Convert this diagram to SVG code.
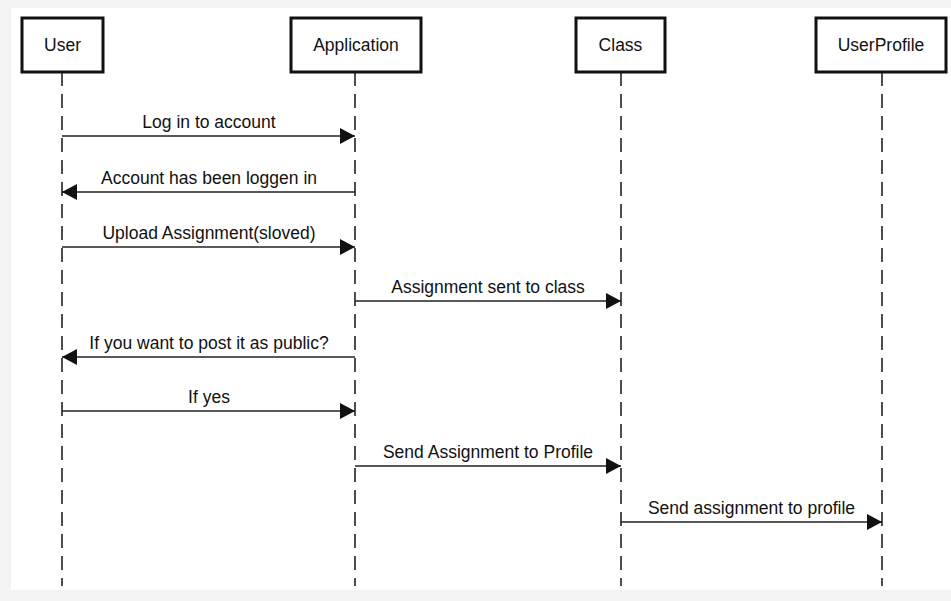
<svg xmlns="http://www.w3.org/2000/svg" width="951" height="601" viewBox="0 0 951 601">
  <style>
    .box { fill: #ffffff; stroke: #111111; stroke-width: 3; }
    .life { stroke: #222222; stroke-width: 1.6; stroke-dasharray: 14 8; fill: none; }
    .msg { stroke: #222222; stroke-width: 1.6; fill: none; marker-end: url(#head); }
    text { font-family: "Liberation Sans", Arial, sans-serif; font-size: 17.5px; fill: #111111; text-anchor: middle; }
  </style>
  <defs>
    <marker id="head" markerUnits="userSpaceOnUse" markerWidth="18" markerHeight="18" refX="15" refY="8" orient="auto">
      <path d="M0,0 L15,8 L0,16 z" fill="#111111"/>
    </marker>
  </defs>

  <!-- canvas with light frame -->
  <rect x="0" y="0" width="951" height="601" fill="#f3f3f3"/>
  <rect x="11" y="8" width="940" height="582" fill="#ffffff"/>

  <!-- lifelines -->
  <g id="lifelines">
    <line class="life" x1="62" y1="72" x2="62" y2="586"/>
    <line class="life" x1="355" y1="72" x2="355" y2="586"/>
    <line class="life" x1="621" y1="72" x2="621" y2="586"/>
    <line class="life" x1="882" y1="72" x2="882" y2="586"/>
  </g>

  <!-- participants -->
  <g id="user">
    <rect class="box" x="22" y="18" width="81" height="54"/>
    <text x="62.5" y="51">User</text>
  </g>
  <g id="application">
    <rect class="box" x="291" y="18" width="130" height="54"/>
    <text x="356" y="51">Application</text>
  </g>
  <g id="class">
    <rect class="box" x="576" y="18" width="89" height="54"/>
    <text x="620.5" y="51">Class</text>
  </g>
  <g id="userprofile">
    <rect class="box" x="816" y="18" width="130" height="54"/>
    <text x="881" y="51">UserProfile</text>
  </g>

  <!-- messages -->
  <g id="connectors">
    <line class="msg" x1="62" y1="136" x2="355" y2="136"/>
    <text x="209" y="128">Log in to account</text>

    <line class="msg" x1="355" y1="192" x2="62" y2="192"/>
    <text x="209" y="184">Account has been loggen in</text>

    <line class="msg" x1="62" y1="247" x2="355" y2="247"/>
    <text x="209" y="239">Upload Assignment(sloved)</text>

    <line class="msg" x1="355" y1="301" x2="621" y2="301"/>
    <text x="488" y="293">Assignment sent to class</text>

    <line class="msg" x1="355" y1="357" x2="62" y2="357"/>
    <text x="209" y="349">If you want to post it as public?</text>

    <line class="msg" x1="62" y1="411" x2="355" y2="411"/>
    <text x="209" y="403">If yes</text>

    <line class="msg" x1="355" y1="466" x2="621" y2="466"/>
    <text x="488" y="458">Send Assignment to Profile</text>

    <line class="msg" x1="621" y1="522" x2="882" y2="522"/>
    <text x="751.5" y="514">Send assignment to profile</text>
  </g>
</svg>
